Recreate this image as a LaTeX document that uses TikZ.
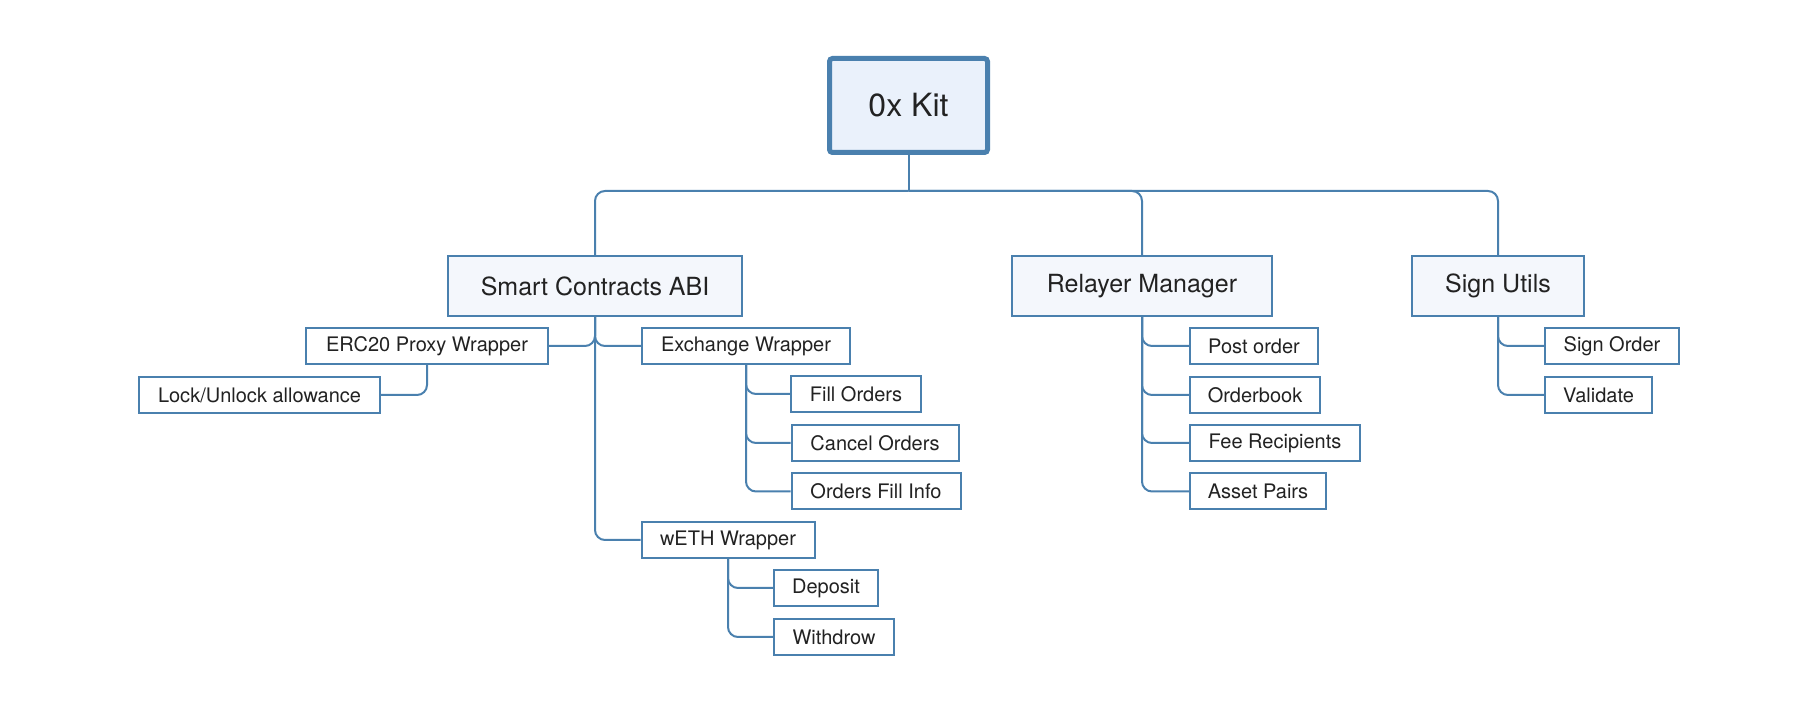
\documentclass[tikz,border=0pt]{standalone}
\usepackage{fontspec}
\setmainfont{TeX Gyre Heros}
\definecolor{bl}{HTML}{4A80AE}
\definecolor{lvlfill}{HTML}{F4F7FC}
\definecolor{rootfill}{HTML}{EAF1FB}
\definecolor{txt}{HTML}{222222}
\begin{document}
\begin{tikzpicture}[x=0.5pt,y=-0.5pt,
  rootbox/.style={draw=bl, line width=2.5pt, fill=rootfill, rounded corners=1.5pt, text=txt,
    minimum width=79pt, minimum height=47pt, inner sep=0pt, font=\fontsize{16}{19}\selectfont},
  lvlbox/.style={draw=bl, line width=1pt, fill=lvlfill, text=txt,
    minimum height=30pt, inner sep=0pt, font=\fontsize{12.5}{15}\selectfont},
  leaf/.style={draw=bl, line width=1pt, fill=white, text=txt,
    minimum height=18pt, inner sep=0pt, font=\fontsize{10}{12}\selectfont},
  conn/.style={draw=bl, line width=1pt, rounded corners=5pt}]
\useasboundingbox (0,0) rectangle (1816,710);

% root
\node[rootbox] (root) at (908.5,105.5) {0x Kit};

% level 1
\node[lvlbox, minimum width=147pt] (smart) at (595,286) {Smart Contracts ABI};
\node[lvlbox, minimum width=130pt] (relay) at (1142,286) {Relayer Manager};
\node[lvlbox, minimum width=86pt] (sign) at (1498,286) {Sign Utils};

% smart contracts children
\node[leaf, minimum width=121pt] (erc) at (427,346) {ERC20 Proxy Wrapper};
\node[leaf, minimum width=120.5pt] (lock) at (259.5,395) {Lock/Unlock allowance};
\node[leaf, minimum width=104pt] (exch) at (746,346) {Exchange Wrapper};
\node[leaf, minimum width=65pt] (fill) at (856,394) {Fill Orders};
\node[leaf, minimum width=83.5pt] (cancel) at (875,443) {Cancel Orders};
\node[leaf, minimum width=84.5pt] (info) at (876,491.5) {Orders Fill Info};
\node[leaf, minimum width=86.5pt] (weth) at (728,540) {wETH Wrapper};
\node[leaf, minimum width=52pt] (dep) at (826,588) {Deposit};
\node[leaf, minimum width=60pt] (wd) at (834,637) {Withdrow};

% relayer children
\node[leaf, minimum width=64pt] (post) at (1254,346) {Post order};
\node[leaf, minimum width=65pt] (book) at (1255,395) {Orderbook};
\node[leaf, minimum width=85pt] (fee) at (1275,443) {Fee Recipients};
\node[leaf, minimum width=68pt] (pairs) at (1258,491.5) {Asset Pairs};

% sign utils children
\node[leaf, minimum width=67pt] (sorder) at (1612,346) {Sign Order};
\node[leaf, minimum width=53.5pt] (valid) at (1598.5,395) {Validate};

% connectors
\coordinate (rj) at (908.5,191);
\draw[conn] (root.south) -- (rj);
\draw[conn] (rj) -| (smart.north);
\draw[conn] (rj) -| (relay.north);
\draw[conn] (rj) -| (sign.north);

\draw[conn] (smart.south) |- (erc.east);
\draw[conn] (smart.south) |- (exch.west);
\draw[conn] (smart.south) |- (weth.west);
\draw[conn] (erc.south) |- (lock.east);
\draw[conn] (exch.south) |- (fill.west);
\draw[conn] (exch.south) |- (cancel.west);
\draw[conn] (exch.south) |- (info.west);
\draw[conn] (weth.south) |- (dep.west);
\draw[conn] (weth.south) |- (wd.west);

\draw[conn] (relay.south) |- (post.west);
\draw[conn] (relay.south) |- (book.west);
\draw[conn] (relay.south) |- (fee.west);
\draw[conn] (relay.south) |- (pairs.west);

\draw[conn] (sign.south) |- (sorder.west);
\draw[conn] (sign.south) |- (valid.west);
\end{tikzpicture}
\end{document}
